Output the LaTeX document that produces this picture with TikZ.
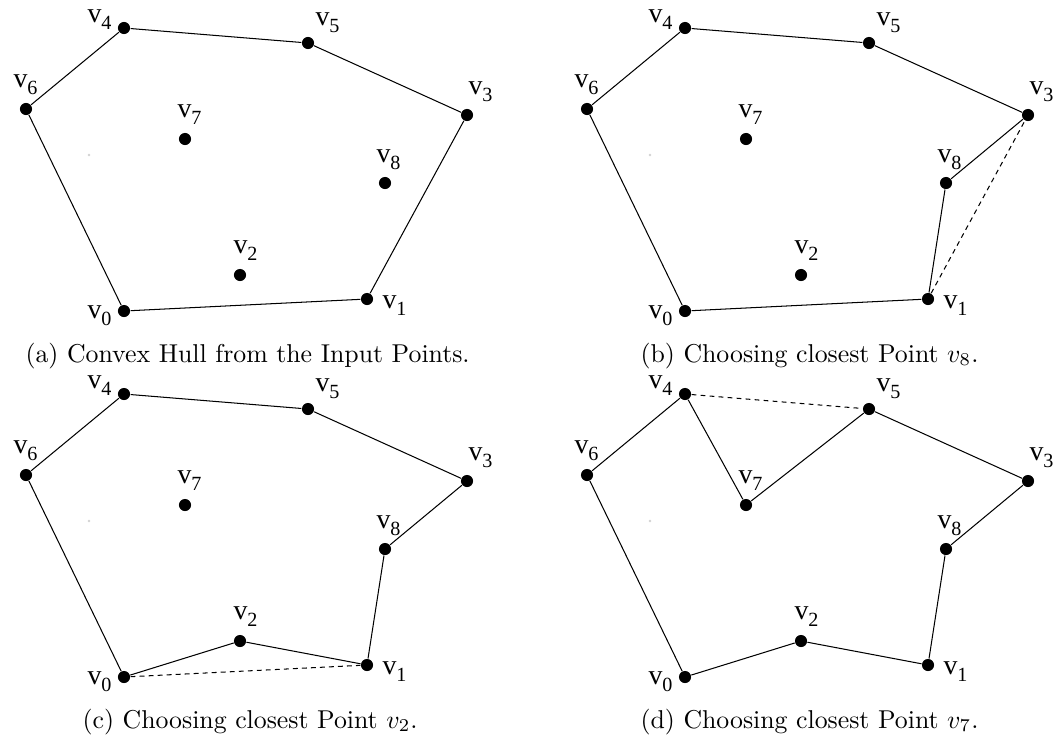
\documentclass[tikz,border=0pt]{standalone}
\usepackage{fontspec}
\newfontfamily\lblfont{Liberation Serif}
\newcommand\vlab[1]{{\lblfont\fontsize{10.8}{12}\selectfont v\raisebox{-2.9pt}{\fontsize{7.8}{9}\selectfont #1}}}
\tikzset{
  pt/.style={circle,fill=black,inner sep=0pt,minimum size=4.7pt},
  lbl/.style={anchor=base west,inner sep=0pt},
  edge/.style={line width=0.4pt},
  dedge/.style={line width=0.4pt,dash pattern=on 1.9pt off 1.6pt},
  capt/.style={anchor=base west,inner sep=0pt,font=\fontsize{10}{12}\selectfont}
}
\newcommand\pts[1]{%
  \node[pt] (#10) at (124,311) {};
  \node[pt] (#11) at (367,299) {};
  \node[pt] (#12) at (240,275) {};
  \node[pt] (#13) at (467,115) {};
  \node[pt] (#14) at (124,28) {};
  \node[pt] (#15) at (308,43) {};
  \node[pt] (#16) at (26,109) {};
  \node[pt] (#17) at (185,139) {};
  \node[pt] (#18) at (385,183) {};
  \node[lbl] (#1l0) at (87,318) {\vlab{0}};
  \node[lbl] (#1l1) at (382,308) {\vlab{1}};
  \node[lbl] (#1l2) at (233,253) {\vlab{2}};
  \node[lbl] (#1l3) at (468,94) {\vlab{3}};
  \node[lbl] (#1l4) at (87,22) {\vlab{4}};
  \node[lbl] (#1l5) at (315,25) {\vlab{5}};
  \node[lbl] (#1l6) at (13,87) {\vlab{6}};
  \node[lbl] (#1l7) at (177,117) {\vlab{7}};
  \node[lbl] (#1l8) at (376,162) {\vlab{8}};
  \fill[gray!35] (89,155) circle (0.5pt);
}
\begin{document}
\begin{tikzpicture}[x=0.3877pt,y=-0.3877pt]
\useasboundingbox (0,0) rectangle (1054,736);
% (a)
\begin{scope}
  \pts{a}
  \draw[edge] (a0) -- (a1) -- (a3) -- (a5) -- (a4) -- (a6) -- (a0);
\end{scope}
\node[capt] (capa) at (25,362) {(a) Convex Hull from the Input Points.};
% (b)
\begin{scope}[shift={(561,0)}]
  \pts{b}
  \draw[edge] (b0) -- (b1) -- (b8) -- (b3) -- (b5) -- (b4) -- (b6) -- (b0);
  \draw[dedge] (b1) -- (b3);
\end{scope}
\node[capt] (capb) at (640,362) {(b) Choosing closest Point $v_8$.};
% (c)
\begin{scope}[shift={(0,366)}]
  \pts{c}
  \draw[edge] (c0) -- (c2) -- (c1) -- (c8) -- (c3) -- (c5) -- (c4) -- (c6) -- (c0);
  \draw[dedge] (c0) -- (c1);
\end{scope}
\node[capt] (capc) at (82,728) {(c) Choosing closest Point $v_2$.};
% (d)
\begin{scope}[shift={(561,366)}]
  \pts{d}
  \draw[edge] (d0) -- (d2) -- (d1) -- (d8) -- (d3) -- (d5) -- (d7) -- (d4) -- (d6) -- (d0);
  \draw[dedge] (d4) -- (d5);
\end{scope}
\node[capt] (capd) at (640,728) {(d) Choosing closest Point $v_7$.};
\end{tikzpicture}
\end{document}
